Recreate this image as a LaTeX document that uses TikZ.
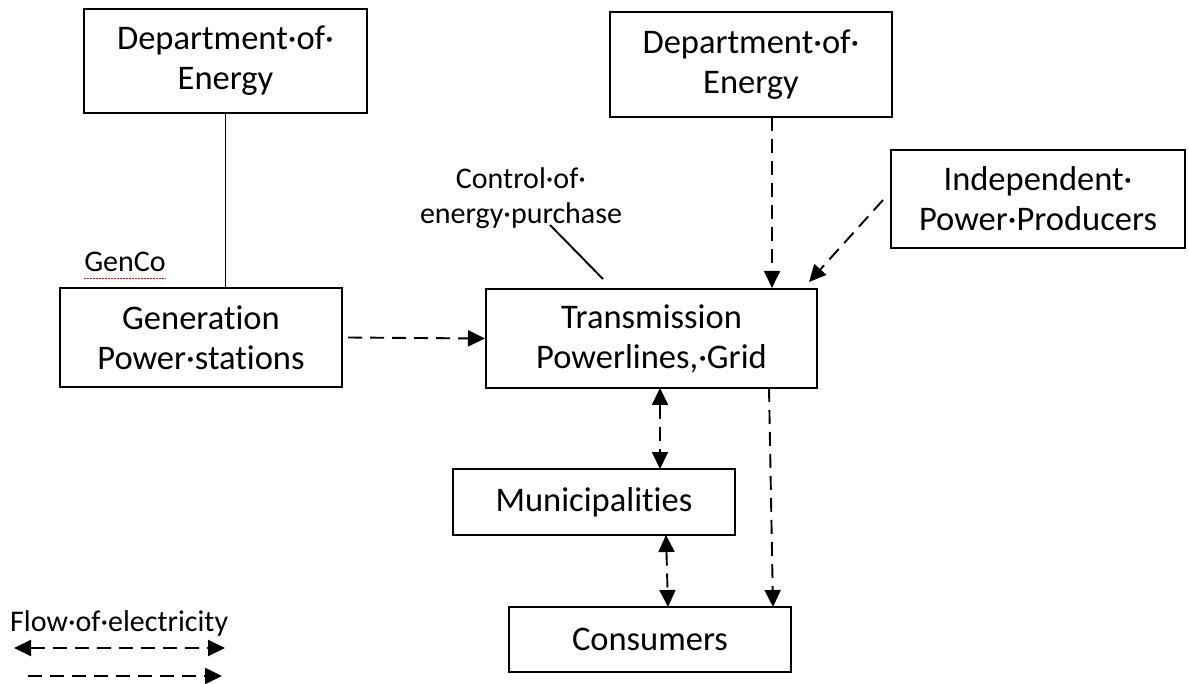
\documentclass[tikz,border=0pt]{standalone}
\usepackage{fontspec}
\setmainfont{Carlito}[Ligatures={NoCommon}]
\usetikzlibrary{arrows.meta,calc}
\begin{document}
\begin{tikzpicture}[x=1pt,y=-1pt,
  box/.style={draw,line width=2.1pt,inner sep=0pt,align=center,
    font=\fontsize{34.5}{40}\selectfont},
  lbl/.style={inner sep=0pt,align=center,font=\fontsize{30}{35}\selectfont},
  flow/.style={line width=1.9pt,dash pattern=on 14pt off 8pt},
  tip/.style={-{Triangle[length=17pt,width=16pt]}},
  tips/.style={{Triangle[length=17pt,width=16pt]}-{Triangle[length=17pt,width=16pt]}},
  link/.style={line width=1.9pt}]
\useasboundingbox (0,0) rectangle (1189,684);
% boxes
\node[box,minimum width=283pt,minimum height=104pt] (doeL) at (225.5,61) {Department·of·\\Energy};
\node[box,minimum width=282pt,minimum height=105pt] (doeR) at (751,64.5) {Department·of·\\Energy};
\node[box,minimum width=294pt,minimum height=98pt] (ipp) at (1038,199) {Independent·\\Power·Producers};
\node[box,minimum width=282pt,minimum height=99pt] (gen) at (201,337.5) {Generation\\Power·stations};
\node[box,minimum width=331pt,minimum height=99pt] (trans) at (651.5,338.5) {Transmission\\Powerlines,·Grid};
\node[box,minimum width=282pt,minimum height=66pt] (muni) at (594,502) {Municipalities};
\node[box,minimum width=282pt,minimum height=65pt] (cons) at (650,639.5) {Consumers};
% labels
\node[lbl] (genco) at (125,262) {GenCo};
\draw[red,line width=0.9pt,dash pattern=on 1.5pt off 1.5pt] ($(genco.south west)+(0,6)$) -- ($(genco.south east)+(0,6)$);
\node[lbl] (ctrl) at (521,198) {Control·of·\\energy·purchase};
\node[lbl,anchor=west] (legend) at (10,623) {Flow·of·electricity};
% coordinates
\coordinate (c1) at (550,225);
\coordinate (c2) at (603,279);
\coordinate (d1) at (772,117);
\coordinate (i1) at (883,200);
\coordinate (i2) at (809,282);
\coordinate (t1) at (660,388);
\coordinate (m1) at (660,469);
\coordinate (m2) at (666,535);
\coordinate (k1) at (668,607);
\coordinate (t2) at (769,388);
\coordinate (k2) at (773,607);
\coordinate (l1) at (14,648);
\coordinate (l2) at (225,648);
\coordinate (l3) at (28,676);
\coordinate (l4) at (222,676);
% connectors
\draw[link] (doeL.south) -- (doeL.south |- gen.north);
\draw[link] (c1) -- (c2);
\draw[flow,tip] ([xshift=5pt]gen.east) -- (trans.west);
\draw[flow,tip] (d1) -- (d1 |- trans.north);
\draw[flow,tip] (i1) -- (i2);
\draw[flow,tips] (t1) -- (m1);
\draw[flow,tips] (m2) -- (k1);
\draw[flow,tip] (t2) -- (k2);
\draw[flow,tips] (l1) -- (l2);
\draw[flow,tip] (l3) -- (l4);
\end{tikzpicture}
\end{document}
